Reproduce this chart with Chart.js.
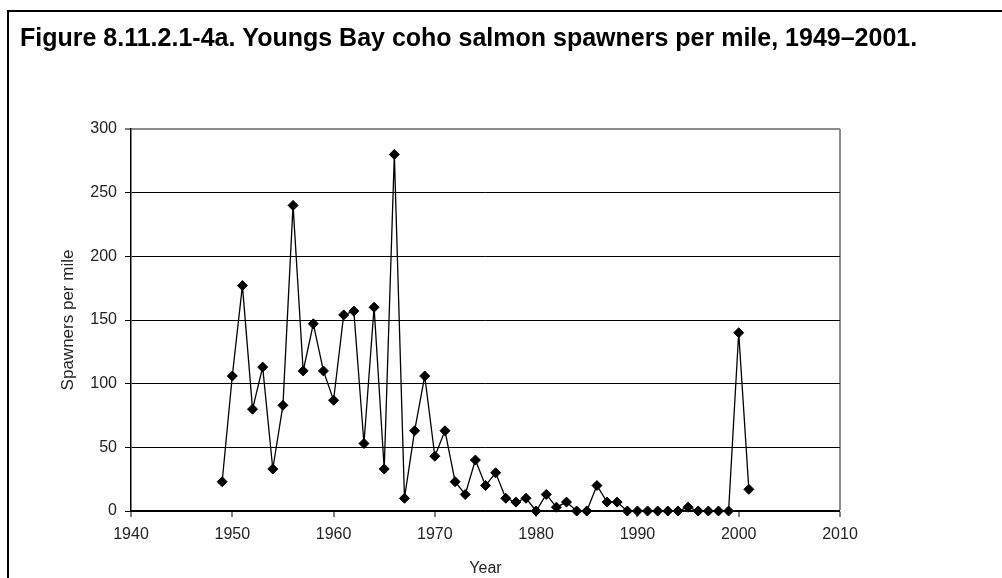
<!DOCTYPE html>
<html>
<head>
<meta charset="utf-8">
<title>Youngs Bay coho salmon spawners per mile</title>
<script src="https://cdn.jsdelivr.net/npm/chart.js@4/dist/chart.umd.min.js"></script>
<style>
  html, body { margin: 0; padding: 0; background: #fff; }
  canvas { display: block; }
</style>
</head>
<body>
<canvas id="grafico" width="1002" height="578"></canvas>
<script>
/* =========================
   DADOS
========================= */
const anos = [
  1949, 1950, 1951, 1952, 1953, 1954, 1955, 1956, 1957, 1958,
  1959, 1960, 1961, 1962, 1963, 1964, 1965, 1966, 1967, 1968,
  1969, 1970, 1971, 1972, 1973, 1974, 1975, 1976, 1977, 1978,
  1979, 1980, 1981, 1982, 1983, 1984, 1985, 1986, 1987, 1988,
  1989, 1990, 1991, 1992, 1993, 1994, 1995, 1996, 1997, 1998,
  1999, 2000, 2001
];
const desovantes = [
  23, 106, 177, 80, 113, 33, 83, 240, 110, 147,
  110, 87, 154, 157, 53, 160, 33, 280, 10, 63,
  106, 43, 63, 23, 13, 40, 20, 30, 10, 7,
  10, 0, 13, 3, 7, 0, 0, 20, 7, 7,
  0, 0, 0, 0, 0, 0, 3, 0, 0, 0,
  0, 140, 17
];
const ticksX = [1940, 1950, 1960, 1970, 1980, 1990, 2000, 2010];
const ticksY = [0, 50, 100, 150, 200, 250, 300];

const titulo = "Figure 8.11.2.1-4a. Youngs Bay coho salmon spawners per mile, 1949\u20132001.";
const tituloY = "Spawners per mile";
const tituloX = "Year";

const fonte = "'Liberation Sans', Arial, sans-serif";

/* =========================
   MOLDURA + TÍTULO
========================= */
const moldura = {
  id: "moldura",
  beforeDraw(chart) {
    const ctx = chart.ctx;
    ctx.save();
    ctx.fillStyle = "#fff";
    ctx.fillRect(0, 0, chart.width, chart.height);
    ctx.strokeStyle = "#000";
    ctx.lineWidth = 2;
    ctx.beginPath();
    ctx.moveTo(8, chart.height);
    ctx.lineTo(8, 11);
    ctx.lineTo(chart.width, 11);
    ctx.stroke();
    ctx.fillStyle = "#000";
    ctx.font = "bold 25px " + fonte;
    ctx.textBaseline = "alphabetic";
    ctx.fillText(titulo, 20, 46);
    ctx.restore();
  }
};

/* =========================
   GRÁFICO
========================= */
const pontos = anos.map((a, i) => ({ x: a, y: desovantes[i] }));

new Chart(document.getElementById("grafico"), {
  type: "line",
  data: {
    datasets: [{
      data: pontos,
      borderColor: "#000",
      borderWidth: 1.3,
      pointStyle: "rectRot",
      pointRadius: 5,
      pointBorderWidth: 1,
      pointBackgroundColor: "#000",
      pointBorderColor: "#000",
      tension: 0,
      clip: false
    }]
  },
  options: {
    responsive: false,
    animation: false,
    layout: { padding: { top: 129, right: 162, bottom: 0, left: 0 } },
    plugins: {
      legend: { display: false },
      tooltip: { enabled: false },
      title: { display: false }
    },
    scales: {
      x: {
        type: "linear",
        min: 1940,
        max: 2010,
        afterBuildTicks: s => { s.ticks = ticksX.map(v => ({ value: v })); },
        afterFit: s => { s.height = 67; },
        border: { color: "#000", width: 1.5 },
        grid: {
          drawOnChartArea: true,
          color: c => (c.tick && c.tick.value === 2010 ? "#8c8c8c" : "rgba(0,0,0,0)"),
          lineWidth: c => (c.tick && c.tick.value === 2010 ? 2 : 0),
          tickColor: "#000",
          tickLength: 6,
          tickWidth: 1
        },
        ticks: {
          padding: 8,
          color: "#222",
          font: { family: fonte, size: 16 },
          callback: v => String(v)
        },
        title: {
          display: true,
          text: tituloX,
          color: "#222",
          font: { family: fonte, size: 16 },
          padding: { top: 4, bottom: 0 }
        }
      },
      y: {
        min: 0,
        max: 300,
        afterBuildTicks: s => { s.ticks = ticksY.map(v => ({ value: v })); },
        afterFit: s => { s.width = 131; },
        border: { color: "#000", width: 1.5 },
        grid: {
          color: c => (c.tick && c.tick.value === 300 ? "#8c8c8c" : "#000"),
          lineWidth: c => (c.tick && c.tick.value === 300 ? 2 : 1),
          tickColor: "#000",
          tickLength: 6,
          tickWidth: 1
        },
        ticks: {
          padding: 8,
          color: "#222",
          font: { family: fonte, size: 16 }
        },
        title: {
          display: true,
          text: tituloY,
          color: "#222",
          font: { family: fonte, size: 17 },
          padding: { top: 58, bottom: 0 }
        }
      }
    }
  },
  plugins: [moldura]
});
</script>
</body>
</html>
